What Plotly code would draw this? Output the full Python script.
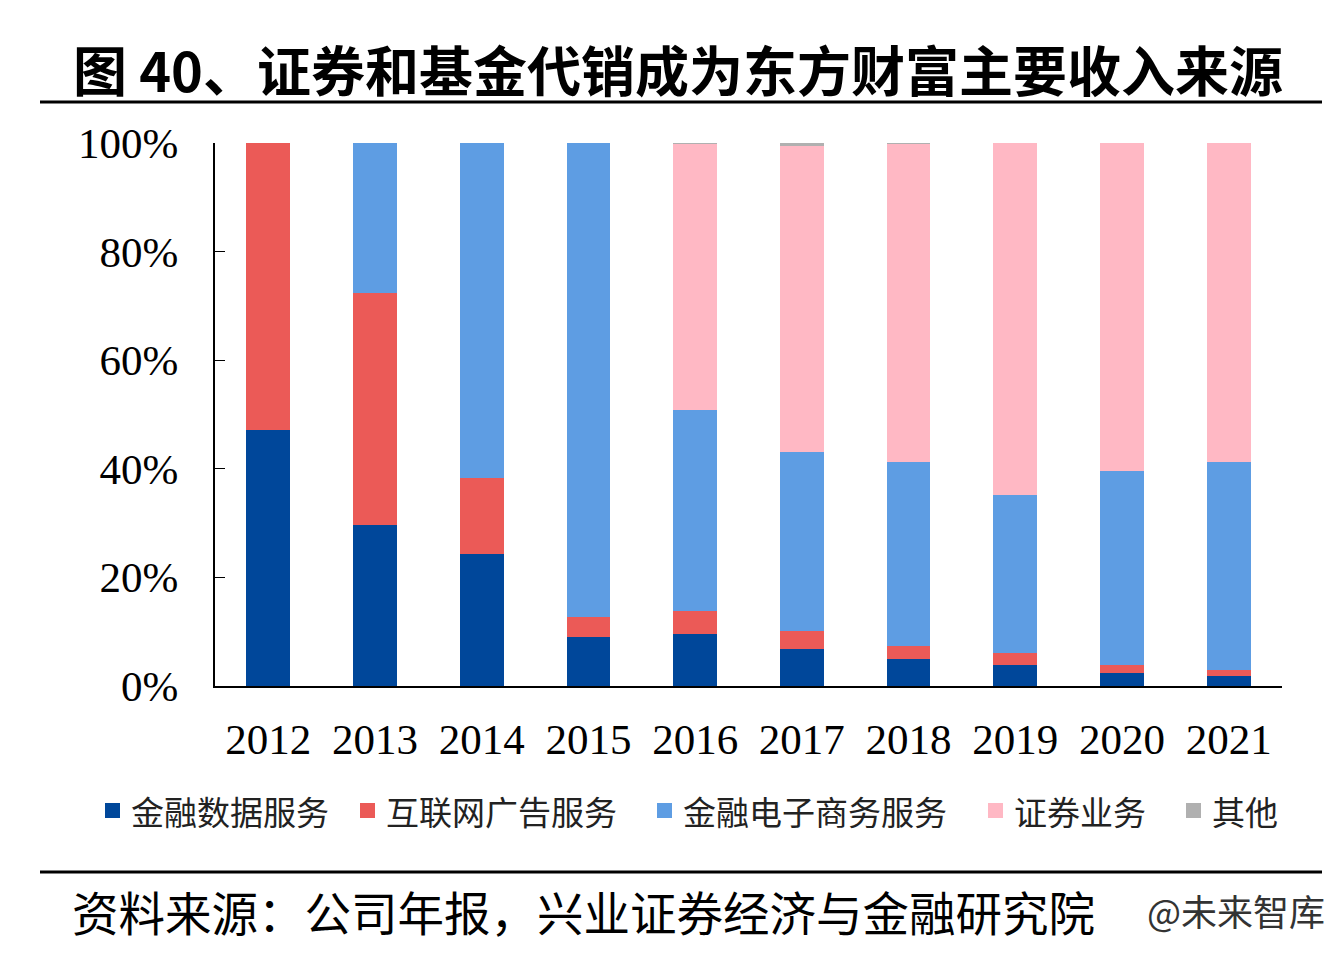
import plotly.graph_objects as go

years = ["2012", "2013", "2014", "2015", "2016", "2017", "2018", "2019", "2020", "2021"]
series_names = ["金融数据服务", "互联网广告服务", "金融电子商务服务", "证券业务", "其他"]
fin_data = [47.1, 29.7, 24.3, 9.0, 9.6, 6.8, 5.0, 3.9, 2.4, 1.8]
internet_ad = [52.9, 42.7, 14.0, 3.7, 4.2, 3.3, 2.4, 2.2, 1.5, 1.1]
fin_ecommerce = [0.0, 27.6, 61.7, 87.3, 37.0, 33.0, 33.9, 29.1, 35.7, 38.4]
securities = [0.0, 0.0, 0.0, 0.0, 49.1, 56.3, 58.6, 64.8, 60.4, 58.7]
others = [0.0, 0.0, 0.0, 0.0, 0.1, 0.6, 0.1, 0.0, 0.0, 0.0]
y_ticks = [0, 20, 40, 60, 80, 100]
y_tick_labels = ["0%", "20%", "40%", "60%", "80%", "100%"]

colors = ["#00479A", "#EB5A57", "#5E9DE3", "#FFB8C4", "#B0B0B0"]
values = [fin_data, internet_ad, fin_ecommerce, securities, others]

fig = go.Figure()
for name, vals, col in zip(series_names, values, colors):
    fig.add_trace(go.Bar(x=years, y=vals, name=name, showlegend=False,
                         marker=dict(color=col, line=dict(width=0))))

serif = "Liberation Serif, Times New Roman, serif"
cjk = "Noto Sans CJK SC"

# page offset of 8px (body margin)
OFF = 8
W, H = 1328, 940
L, T = 215 - OFF, 143 - OFF
R = W - (1282 - OFF)
B = H - (686 - OFF)
PW, PH = 1282 - 215, 686 - 143


def px(x):
    return (x - 215) / PW


def py(y):
    return (686 - y) / PH


fig.update_layout(
    barmode="stack",
    bargap=0.59,
    width=W, height=H,
    margin=dict(l=L, r=R, t=T, b=B),
    paper_bgcolor="white", plot_bgcolor="white",
    showlegend=False,
    xaxis=dict(showline=True, linecolor="black", linewidth=2, ticks="", showgrid=False,
               tickfont=dict(family=serif, size=43, color="black"), ticklabelstandoff=14),
    yaxis=dict(range=[0, 100], tickvals=y_ticks, ticktext=y_tick_labels, showline=True,
               linecolor="black", linewidth=2, ticks="inside", ticklen=10, tickcolor="black",
               showgrid=False, tickfont=dict(family=serif, size=43, color="black"),
               ticklabelstandoff=26),
)

# legend (drawn manually to match the spacing of the reference)
legend_marker_x = [105, 360, 657, 988, 1186]
for name, col, mx in zip(series_names, colors, legend_marker_x):
    fig.add_shape(type="rect", xref="paper", yref="paper",
                  x0=px(mx), x1=px(mx + 15), y0=py(818), y1=py(803),
                  fillcolor=col, line=dict(width=0))
    fig.add_annotation(text=name, xref="paper", yref="paper", x=px(mx + 24), y=py(811),
                       xanchor="left", yanchor="middle", showarrow=False,
                       font=dict(family=cjk, size=33, color="#222"))

fig.add_annotation(text="<b>图 40、证券和基金代销成为东方财富主要收入来源</b>", xref="paper", yref="paper",
                   x=px(678), y=py(68), xanchor="center", yanchor="middle",
                   showarrow=False, font=dict(family=cjk, size=54, color="black"))
fig.add_shape(type="line", xref="paper", yref="paper", x0=px(40), x1=px(1322),
              y0=py(102), y1=py(102), line=dict(color="black", width=3))
fig.add_shape(type="line", xref="paper", yref="paper", x0=px(40), x1=px(1322),
              y0=py(872), y1=py(872), line=dict(color="black", width=3))
fig.add_annotation(text="资料来源：公司年报，兴业证券经济与金融研究院", xref="paper", yref="paper",
                   x=px(70), y=py(910), xanchor="left", yanchor="middle",
                   showarrow=False, font=dict(family=cjk, size=46.5, color="black"))
fig.add_annotation(text="@未来智库", xref="paper", yref="paper",
                   x=px(1145), y=py(910), xanchor="left", yanchor="middle",
                   showarrow=False, font=dict(family=cjk, size=36, color="#333"))

fig.write_html("out.html")
